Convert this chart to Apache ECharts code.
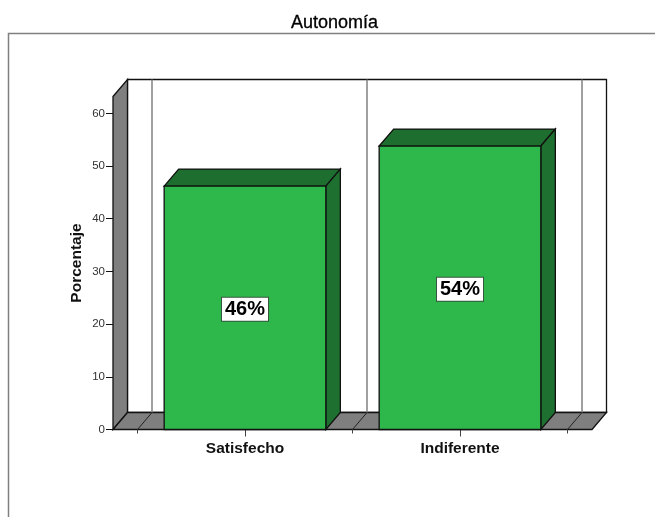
<!DOCTYPE html>
<html>
<head>
<meta charset="utf-8">
<style>html,body{margin:0;padding:0;background:#fff}#c{width:655px;height:517px}</style>
<script src="https://cdn.jsdelivr.net/npm/echarts@6/dist/echarts.min.js"></script>
</head>
<body>
<div id="c"></div>
<script>
var categories = ['Satisfecho', 'Indiferente'];
var percentages = [46.2, 53.8];
var barLabels = ['46%', '54%'];
var yTicks = [0, 10, 20, 30, 40, 50, 60];
var chartTitle = 'Autonom\u00eda';
var yName = 'Porcentaje';

var DX = 14.5, DY = -17, PAD = 24.5, BAR = 0.752;
var FONT = '"Liberation Sans", Arial, sans-serif';
var EDGE = '#111111';

function seg(x1, y1, x2, y2, color, w) {
  return {type: 'line', shape: {x1: x1, y1: y1, x2: x2, y2: y2}, style: {stroke: color, lineWidth: w || 1, fill: null}};
}
function poly(pts, fill, stroke) {
  return {type: 'polygon', shape: {points: pts}, style: {fill: fill, stroke: stroke || EDGE, lineWidth: 1.3}};
}

function renderRoom(params, api) {
  var cs = params.coordSys;
  var L = cs.x - PAD, R = cs.x + cs.width + PAD, T = cs.y, B = cs.y + cs.height;
  var kids = [
    poly([[L + DX, T + DY], [R + DX, T + DY], [R + DX, B + DY], [L + DX, B + DY]], '#ffffff'),
    poly([[L, T], [L + DX, T + DY], [L + DX, B + DY], [L, B]], '#7f7f7f'),
    poly([[L, B], [L + DX, B + DY], [R + DX, B + DY], [R, B]], '#7f7f7f')
  ];
  var band = cs.width / categories.length;
  for (var i = 0; i <= categories.length; i++) {
    var x = cs.x + band * i;
    kids.push(seg(x + DX, T + DY, x + DX, B + DY, '#808080', 1.5));
    kids.push(seg(x, B, x + DX, B + DY, '#222222', 1));
    kids.push(seg(x, B, x, B + 4, '#444444', 1));
  }
  return {type: 'group', children: kids};
}

function renderBar(params, api) {
  var base = api.coord([api.value(0), 0]);
  var top = api.coord([api.value(0), api.value(1)]);
  var w = api.size([1, 0])[0] * BAR;
  var l = base[0] - w / 2, r = base[0] + w / 2, t = top[1], b = base[1];
  return {type: 'group', children: [
    poly([[l, t], [l + DX, t + DY], [r + DX, t + DY], [r, t]], '#1e6f2f'),
    poly([[r, t], [r + DX, t + DY], [r + DX, b + DY], [r, b]], '#1e7030'),
    {type: 'rect', shape: {x: l, y: t, width: r - l, height: b - t}, style: {fill: '#2eb84b', stroke: EDGE, lineWidth: 1.3}},
    {type: 'text', x: base[0], y: (t + b) / 2 + 1.5, style: {
      text: barLabels[params.dataIndex], fill: '#000', align: 'center', verticalAlign: 'middle',
      font: 'bold 20px ' + FONT, backgroundColor: '#ffffff', borderColor: '#33553c', borderWidth: 1,
      padding: [2, 3, 1, 3]
    }}
  ]};
}

var chart = echarts.init(document.getElementById('c'), null, {renderer: 'canvas'});
chart.setOption({
  animation: false,
  backgroundColor: '#ffffff',
  title: {text: chartTitle, left: 286, top: 9,
    textStyle: {fontFamily: FONT, fontSize: 18, fontWeight: 'normal', color: '#000', textBorderColor: '#000', textBorderWidth: 0.3}},
  graphic: [
    {type: 'polyline', silent: true, shape: {points: [[8.5, 517], [8.5, 33.5], [655, 33.5]]},
     style: {stroke: '#808080', lineWidth: 1.5, fill: null}}
  ],
  grid: {left: 137.5, top: 96.5, width: 430, height: 333},
  xAxis: {type: 'category', data: categories,
    axisLine: {show: false},
    axisTick: {show: true, alignWithLabel: true, length: 7, lineStyle: {color: '#444444', width: 1}},
    axisLabel: {fontFamily: FONT, fontSize: 15.5, fontWeight: 'bold', color: '#111', margin: 11}},
  yAxis: {type: 'value', min: 0, max: 63.2, offset: 24.5,
    name: yName, nameLocation: 'middle', nameRotate: 90, nameGap: 28, nameMoveOverlap: false,
    nameTextStyle: {fontFamily: FONT, fontSize: 15.5, fontWeight: 'bold', color: '#111'},
    splitLine: {show: false},
    axisLine: {show: false},
    axisTick: {show: true, length: 7, customValues: yTicks, lineStyle: {color: '#111', width: 1}},
    axisLabel: {fontFamily: FONT, fontSize: 11.5, color: '#333', margin: 8, customValues: yTicks}},
  series: [
    {type: 'custom', coordinateSystem: 'cartesian2d', renderItem: renderRoom, data: [[0, 0]], silent: true, clip: false, z: 1},
    {type: 'custom', coordinateSystem: 'cartesian2d', renderItem: renderBar, clip: false, z: 2,
     encode: {x: 0, y: 1},
     data: percentages.map(function (v, i) { return [i, v]; })}
  ]
});
</script>
</body>
</html>
